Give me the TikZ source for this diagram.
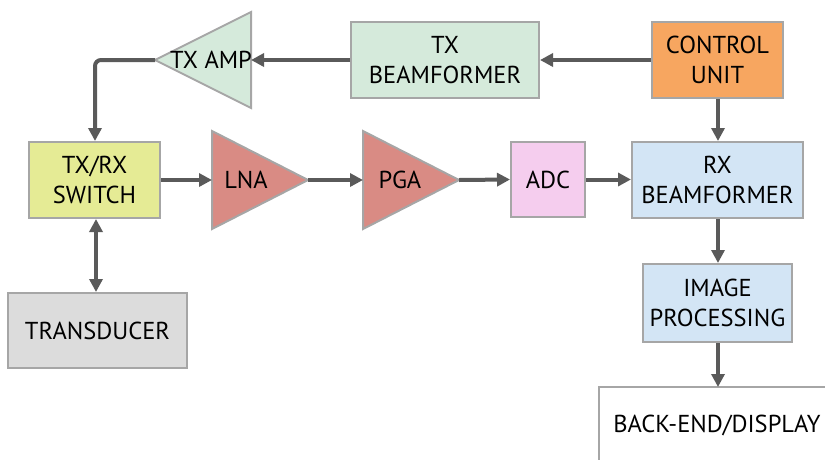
\documentclass[tikz,border=0pt]{standalone}
\usepackage{fontspec}
\setmainfont{PT Sans}
\usetikzlibrary{arrows.meta}
\definecolor{edgegray}{HTML}{A6A6A6}
\definecolor{arrgray}{HTML}{5A5A5A}
\definecolor{txgreen}{HTML}{D5EADB}
\definecolor{ctrlorange}{HTML}{F7A660}
\definecolor{swyellow}{HTML}{E5EB95}
\definecolor{ampred}{HTML}{D98B84}
\definecolor{adcpink}{HTML}{F5CDEE}
\definecolor{rxblue}{HTML}{D3E5F5}
\definecolor{tdgray}{HTML}{DCDCDC}
\tikzset{
  blk/.style={draw=edgegray, line width=2pt, inner sep=0pt, align=center,
    font=\fontsize{24.5}{30}\selectfont, text=black},
  tri/.style={draw=edgegray, line width=2pt, line join=miter},
  lbl/.style={font=\fontsize{24.5}{30}\selectfont, inner sep=0pt},
  arr/.style={draw=arrgray, line width=4pt, -{Triangle[length=13pt,width=13pt]}},
  darr/.style={draw=arrgray, line width=4pt, {Triangle[length=13pt,width=13pt]}-{Triangle[length=13pt,width=13pt]}}
}
\begin{document}
\begin{tikzpicture}[x=1pt,y=-1pt]
\useasboundingbox (0,0) rectangle (825,459);
% rectangular blocks
\node[blk, fill=txgreen, minimum width=188pt, minimum height=76pt] (txbf) at (445,60) {TX\\BEAMFORMER};
\node[blk, fill=ctrlorange, minimum width=131pt, minimum height=76pt] (ctrl) at (717.5,60) {CONTROL\\UNIT};
\node[blk, fill=swyellow, minimum width=131pt, minimum height=76pt] (sw) at (94.5,180) {TX/RX\\SWITCH};
\node[blk, fill=adcpink, minimum width=74pt, minimum height=75pt] (adc) at (548,179.5) {ADC};
\node[blk, fill=rxblue, minimum width=171pt, minimum height=76pt] (rx) at (717.5,180) {RX\\BEAMFORMER};
\node[blk, fill=rxblue, minimum width=149pt, minimum height=78pt] (img) at (717.5,303) {IMAGE\\PROCESSING};
\node[blk, fill=tdgray, minimum width=179pt, minimum height=75pt] (td) at (97.5,330.5) {TRANSDUCER};
% back-end box (cut off by the picture edge)
\draw[edgegray, line width=2pt] (599,460) -- (599,387) -- (826,387);
\node[lbl] (be) at (717,425) {BACK-END/DISPLAY};
\coordinate (betop) at (718,387);
% triangles
\draw[tri, fill=txgreen] (155,60) -- (251,12) -- (251,108) -- cycle;
\coordinate (txamptip) at (155,60);
\coordinate (txampbase) at (251,60);
\node[lbl] (txamp) at (211,60) {TX AMP};
\draw[tri, fill=ampred] (212,131) -- (308,180) -- (212,229) -- cycle;
\coordinate (lnain) at (212,180);
\coordinate (lnaout) at (308,180);
\node[lbl] (lna) at (246,180) {LNA};
\draw[tri, fill=ampred] (363,131) -- (459,180) -- (363,229) -- cycle;
\coordinate (pgain) at (363,180);
\coordinate (pgaout) at (459,180);
\node[lbl] (pga) at (400,180) {PGA};
% connectors
\draw[arr] (ctrl.west) -- (txbf.east);
\draw[arr] (txbf.west) -- (txampbase);
\draw[arr, rounded corners=6pt] (txamptip) -- (95,60) -- (sw.north -| 95,0);
\draw[darr] (sw.south -| 96,0) -- (td.north -| 96,0);
\draw[arr] (sw.east) -- (lnain);
\draw[arr] (lnaout) -- (pgain);
\draw[arr] (pgaout) -- (adc.west);
\draw[arr] (adc.east) -- (rx.west |- adc.east);
\draw[arr] (ctrl.south -| 718,0) -- (rx.north -| 718,0);
\draw[arr] (rx.south -| 718,0) -- (img.north -| 718,0);
\draw[arr] (img.south -| 718,0) -- (betop);
\end{tikzpicture}
\end{document}
